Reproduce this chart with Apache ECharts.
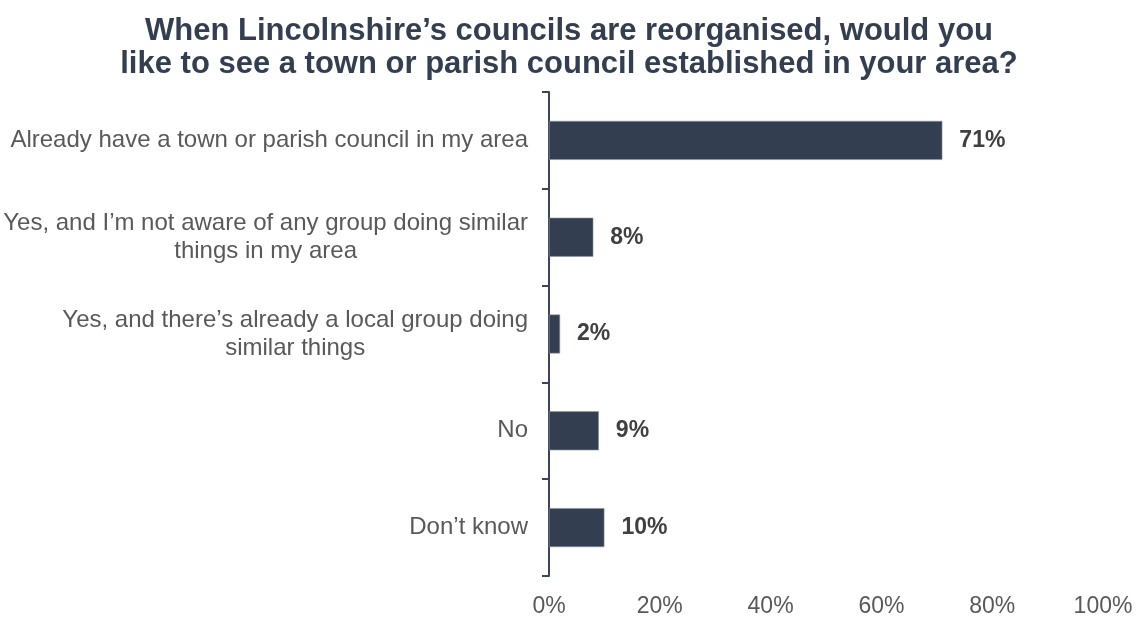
<!DOCTYPE html>
<html>
<head>
<meta charset="utf-8">
<script src="https://cdn.jsdelivr.net/npm/echarts@6/dist/echarts.min.js"></script>
<style>
  html, body { margin: 0; padding: 0; background: #ffffff; }
  #chart { width: 1138px; height: 618px; }
</style>
</head>
<body>
<div id="chart"></div>
<script>
// Survey answers, listed top to bottom
const categories = [
  'Already have a town or parish council in my area',
  'Yes, and I’m not aware of any group doing similar\nthings in my area',
  'Yes, and there’s already a local group doing\nsimilar things',
  'No',
  'Don’t know'
];
// Share of respondents (%)
const shares = [71, 8, 2, 9, 10];
// Value axis ticks (%)
const xTicks = [0, 20, 40, 60, 80, 100];

const FONT = '"Liberation Sans", Arial, Helvetica, sans-serif';

const chart = echarts.init(document.getElementById('chart'), null, { renderer: 'canvas' });

chart.setOption({
  animation: false,
  backgroundColor: '#ffffff',
  title: {
    text: 'When Lincolnshire’s councils are reorganised, would you\nlike to see a town or parish council established in your area?',
    left: 'center',
    top: 10,
    textStyle: {
      fontFamily: FONT,
      fontSize: 31,
      fontWeight: 'bold',
      color: '#333F50',
      lineHeight: 33,
      align: 'center'
    }
  },
  grid: {
    left: 549,
    right: 35,
    top: 92,
    bottom: 38,
    containLabel: false
  },
  xAxis: {
    type: 'value',
    min: xTicks[0],
    max: xTicks[xTicks.length - 1],
    interval: xTicks[1] - xTicks[0],
    axisLine: { show: false },
    axisTick: { show: false },
    splitLine: { show: false },
    axisLabel: {
      margin: 19,
      fontFamily: FONT,
      fontSize: 23,
      color: '#595959',
      formatter: v => v + '%'
    }
  },
  yAxis: {
    type: 'category',
    inverse: true,
    data: categories,
    axisLine: { show: true, lineStyle: { color: '#3D4656', width: 2 } },
    axisTick: { show: true, length: 7, alignWithLabel: false, lineStyle: { color: '#3D4656', width: 2 } },
    axisLabel: {
      margin: 21,
      fontFamily: FONT,
      fontSize: 24,
      color: '#595959',
      lineHeight: 28,
      formatter: v => v.split('\n').map(s => '{c|' + s + '}').join('\n'),
      rich: {
        c: { align: 'center', fontFamily: FONT, fontSize: 24, color: '#595959', lineHeight: 28 }
      }
    }
  },
  series: [{
    type: 'bar',
    data: shares,
    barWidth: 39,
    itemStyle: { color: '#333F50', borderColor: '#8a93a3', borderWidth: 0.6 },
    label: {
      show: true,
      position: 'right',
      distance: 17,
      fontFamily: FONT,
      fontSize: 23,
      fontWeight: 'bold',
      color: '#404040',
      formatter: p => p.value + '%'
    }
  }]
});
</script>
</body>
</html>
